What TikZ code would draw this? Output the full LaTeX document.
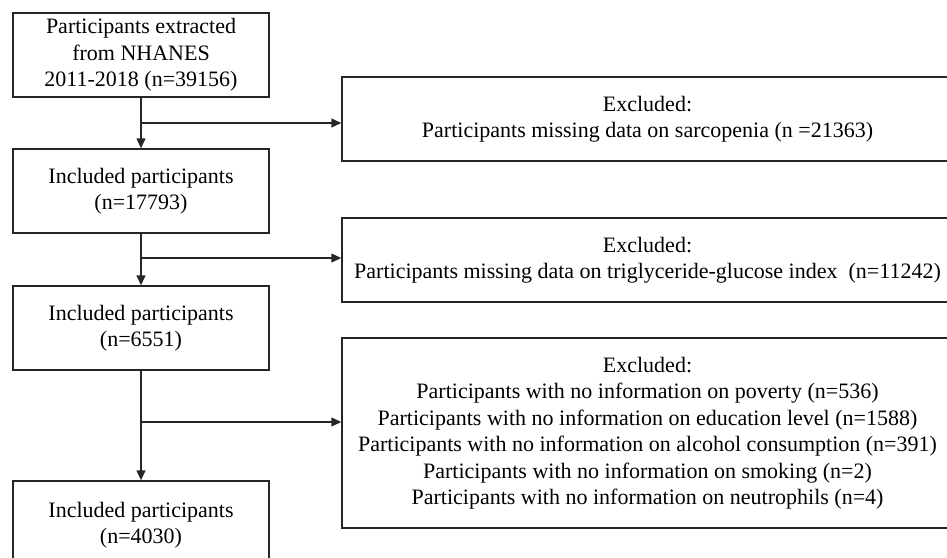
\documentclass[tikz,border=0pt]{standalone}
\usepackage{fontspec}
\setmainfont{Liberation Serif}
\usetikzlibrary{arrows.meta}
\begin{document}
\begin{tikzpicture}[x=1pt,y=-1pt,
  box/.style={draw=black!85,line width=1.5pt,align=center,inner sep=0pt,
    font=\fontsize{22pt}{26.5pt}\selectfont},
  lbox/.style={box,minimum width=256pt,minimum height=84pt},
  ebox/.style={box,minimum width=611pt},
  arr/.style={draw=black!85,line width=1.5pt,-{Triangle[length=10pt,width=9pt]}}]
\useasboundingbox (0,0) rectangle (947,557);
\clip (0,0) rectangle (947,557);
\node[lbox] (b1) at (141,55) {Participants extracted\\from NHANES\\2011-2018 (n=39156)};
\node[lbox] (b2) at (141,191) {Included participants\\(n=17793)};
\node[lbox] (b3) at (141,328) {Included participants\\(n=6551)};
\node[lbox,minimum height=88pt] (b4) at (141,525) {Included participants\\(n=4030)};
\node[ebox,minimum height=84pt] (e1) at (647.5,119) {Excluded:\\Participants missing data on sarcopenia (n =21363)};
\node[ebox,minimum height=84pt] (e2) at (647.5,260) {Excluded:\\Participants missing data on triglyceride-glucose index \ (n=11242)};
\node[ebox,minimum height=190pt] (e3) at (647.5,433) {Excluded:\\Participants with no information on poverty (n=536)\\Participants with no information on education level (n=1588)\\Participants with no information on alcohol consumption (n=391)\\Participants with no information on smoking (n=2)\\Participants with no information on neutrophils (n=4)};
\coordinate (j1) at (141,123);
\coordinate (j2) at (141,258);
\coordinate (j3) at (141,422);
\draw[arr] (b1.south) -- (b2.north);
\draw[arr] (b2.south) -- (b3.north);
\draw[arr] (b3.south) -- (b4.north);
\draw[arr] (j1) -- (e1.west |- j1);
\draw[arr] (j2) -- (e2.west |- j2);
\draw[arr] (j3) -- (e3.west |- j3);
\end{tikzpicture}
\end{document}
